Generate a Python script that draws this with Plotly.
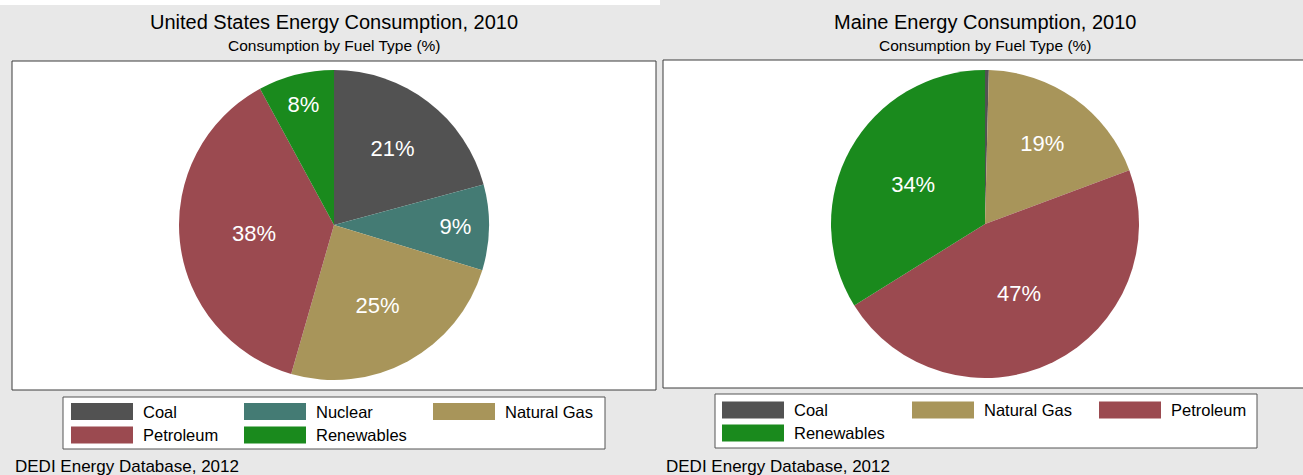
import plotly.graph_objects as go

W, H = 1303, 475

# data
us_labels = ["Coal", "Nuclear", "Natural Gas", "Petroleum", "Renewables"]
us_values = [21, 9, 25, 38, 8]
me_labels = ["Coal", "Natural Gas", "Petroleum", "Renewables"]
me_values = [0.4, 19, 47, 34]

fuel_colors = {
    "Coal": "#525252",
    "Nuclear": "#447b74",
    "Natural Gas": "#a8955a",
    "Petroleum": "#9b4a50",
    "Renewables": "#1a8a1d",
}

FONT = "Liberation Sans, Arial, sans-serif"


def px(x):
    return x / W


def py(y):
    return 1 - y / H


def pct_text(values):
    return [f"{v:.0f}%" if v >= 1 else "" for v in values]


def note(text, x, y, size, anchor="center"):
    return dict(text=text, x=px(x), y=py(y), xref="paper", yref="paper",
                showarrow=False, xanchor=anchor, yanchor="middle",
                font=dict(size=size, color="black", family=FONT))


fig = go.Figure()

panels = [
    dict(labels=us_labels, values=us_values, title="United States Energy Consumption, 2010",
         box=(12, 61, 656, 390), cx=334, cy=225, r=155,
         leg=(63, 397, 605, 449), cols=[71, 244, 433], rows=[411.5, 435]),
    dict(labels=me_labels, values=me_values, title="Maine Energy Consumption, 2010",
         box=(663, 60, 1310, 388), cx=985, cy=224, r=154,
         leg=(715, 394, 1257, 448), cols=[722, 912, 1099], rows=[410, 433]),
]

shapes = [dict(type="rect", xref="paper", yref="paper", x0=0, x1=px(660), y0=py(5), y1=1,
               fillcolor="white", line=dict(width=0), layer="below")]
annotations = []

for p in panels:
    fig.add_trace(go.Pie(
        labels=p["labels"],
        values=p["values"],
        text=pct_text(p["values"]),
        textinfo="text",
        textposition="inside",
        insidetextorientation="horizontal",
        textfont=dict(color="white", size=22, family=FONT),
        marker=dict(colors=[fuel_colors[l] for l in p["labels"]], line=dict(width=0)),
        sort=False,
        direction="clockwise",
        rotation=0,
        showlegend=False,
        domain=dict(x=[px(p["cx"] - p["r"]), px(p["cx"] + p["r"])],
                    y=[py(p["cy"] + p["r"]), py(p["cy"] - p["r"])]),
    ))

    x0, y0, x1, y1 = p["box"]
    shapes.append(dict(type="rect", xref="paper", yref="paper",
                       x0=px(x0), x1=px(x1), y0=py(y1), y1=py(y0),
                       fillcolor="white", line=dict(color="#3c3c3c", width=1), layer="below"))
    annotations.append(note(p["title"], p["cx"], 22, 20))
    annotations.append(note("Consumption by Fuel Type (%)", p["cx"], 46, 15.5))
    annotations.append(note("DEDI Energy Database, 2012", x0 + 1, 466, 17, "left"))

    # legend box
    lx0, ly0, lx1, ly1 = p["leg"]
    shapes.append(dict(type="rect", xref="paper", yref="paper",
                       x0=px(lx0), x1=px(lx1), y0=py(ly1), y1=py(ly0),
                       fillcolor="white", line=dict(color="#555555", width=1)))
    for i, lab in enumerate(p["labels"]):
        sx = p["cols"][i % 3]
        sy = p["rows"][i // 3]
        shapes.append(dict(type="rect", xref="paper", yref="paper",
                           x0=px(sx), x1=px(sx + 62), y0=py(sy + 8.5), y1=py(sy - 8.5),
                           fillcolor=fuel_colors[lab], line=dict(width=0)))
        annotations.append(note(lab, sx + 70, sy, 16.5, "left"))

fig.update_layout(
    width=W,
    height=H,
    margin=dict(l=0, r=0, t=0, b=0),
    paper_bgcolor="#e8e8e8",
    plot_bgcolor="#e8e8e8",
    shapes=shapes,
    annotations=annotations,
    showlegend=False,
)

fig.write_html("out.html", config={"displayModeBar": False},
               post_script="document.body.style.margin='0';")
